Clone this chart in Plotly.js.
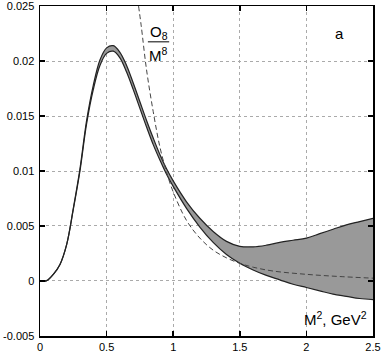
<!DOCTYPE html>
<html>
<head>
<meta charset="utf-8">
<script src="https://cdn.plot.ly/plotly-3.0.1.min.js"></script>
<style>body{margin:0;padding:0;background:#fff}</style>
</head>
<body>
<div id="chart" style="width:382px;height:354px"></div>
<script>
var m2 = [0, 0.05, 0.1, 0.15, 0.2, 0.25, 0.3, 0.35, 0.4, 0.45, 0.5, 0.55, 0.6, 0.65, 0.7, 0.75, 0.8, 0.85, 0.9, 0.95,
          1.0, 1.1, 1.2, 1.3, 1.4, 1.5, 1.6, 1.7, 1.8, 1.9, 2.0, 2.1, 2.2, 2.3, 2.4, 2.5];
var bandLow = [0, 0.00003, 0.0006, 0.0015, 0.0033, 0.0065, 0.0100, 0.0143, 0.0174, 0.0196, 0.0207, 0.0209, 0.0203, 0.0190,
               0.0174, 0.0157, 0.0140, 0.0124, 0.0110, 0.0097, 0.0086, 0.0066, 0.0049, 0.0035, 0.0024, 0.0016, 0.0010,
               0.0005, 0.0001, -0.0003, -0.0006, -0.0009, -0.0012, -0.0014, -0.0016, -0.0017];
var bandHigh = [0, 0.00003, 0.0006, 0.0015, 0.0033, 0.0066, 0.0102, 0.0146, 0.0178, 0.0201, 0.0212, 0.0214, 0.0208, 0.0196,
                0.0180, 0.0163, 0.0146, 0.0130, 0.0115, 0.0102, 0.0091, 0.0072, 0.0057, 0.0045, 0.0036, 0.00315, 0.0031,
                0.00325, 0.0035, 0.0037, 0.0039, 0.0043, 0.0047, 0.0051, 0.0054, 0.0057];

// dashed O8/M8 curve
var m2Dash = [0.74, 0.76, 0.8, 0.85, 0.9, 0.95, 1.0, 1.1, 1.2, 1.3, 1.4, 1.5, 1.6, 1.75, 2.0, 2.25, 2.5];
var o8Dash = [0.025, 0.0232, 0.0192, 0.0154, 0.0122, 0.0099, 0.0081, 0.0055, 0.0039, 0.0028, 0.0021, 0.0016, 0.00125,
              0.0009, 0.0006, 0.0004, 0.00025];

var xTicks = [0, 0.5, 1, 1.5, 2, 2.5];
var xLabels = ["0", "0.5", "1", "1.5", "2", "2.5"];
var yTicks = [-0.005, 0, 0.005, 0.01, 0.015, 0.02, 0.025];
var yLabels = ["-0.005", "0", "0.005", "0.01", "0.015", "0.02", "0.025"];

var lower = {
  x: m2, y: bandLow, type: "scatter", mode: "lines",
  line: {color: "#222", width: 1.2, shape: "spline"}, hoverinfo: "skip"
};
var upper = {
  x: m2, y: bandHigh, type: "scatter", mode: "lines", fill: "tonexty",
  fillcolor: "#999999",
  line: {color: "#222", width: 1.2, shape: "spline"}, hoverinfo: "skip"
};
var dashed = {
  x: m2Dash, y: o8Dash, type: "scatter", mode: "lines",
  line: {color: "#444", width: 1, dash: "5px,3px", shape: "spline"}, hoverinfo: "skip"
};
var data = [lower, upper, dashed];

var axisStyle = {
  showline: true, mirror: "ticks", linecolor: "#000", linewidth: 1.5,
  ticks: "inside", ticklen: 5, tickcolor: "#000", tickwidth: 1.5,
  showgrid: true, gridcolor: "#aaa", griddash: "dot", gridwidth: 1,
  zeroline: false, tickmode: "array", ticklabeloverflow: "allow",
  tickfont: {family: "Liberation Sans, Arial, sans-serif", size: 11, color: "#000"}
};

var layout = {
  width: 382, height: 354,
  margin: {l: 40, r: 9, t: 6, b: 18},
  showlegend: false,
  paper_bgcolor: "#fff", plot_bgcolor: "#fff",
  xaxis: Object.assign({}, axisStyle, {range: [0, 2.5], tickvals: xTicks, ticktext: xLabels}),
  yaxis: Object.assign({}, axisStyle, {range: [-0.00501, 0.02501], tickvals: yTicks, ticktext: yLabels, ticklabelstandoff: 2}),
  annotations: [
    {x: 2.25, y: 0.0225, xref: "x", yref: "y", text: "a", showarrow: false,
     font: {family: "Liberation Sans, Arial, sans-serif", size: 15, color: "#000"}},
    {x: 0.89, y: 0.0226, xref: "x", yref: "y", text: "O<sub>8</sub>", showarrow: false,
     font: {family: "Liberation Sans, Arial, sans-serif", size: 15, color: "#000"}},
    {x: 0.89, y: 0.0206, xref: "x", yref: "y", text: "M<sup>8</sup>", showarrow: false,
     font: {family: "Liberation Sans, Arial, sans-serif", size: 15, color: "#000"}},
    {x: 1, y: 0, xref: "paper", yref: "paper", xanchor: "right", yanchor: "bottom", xshift: -4, yshift: 6,
     text: "M<sup>2</sup>, GeV<sup>2</sup>", showarrow: false,
     font: {family: "Liberation Sans, Arial, sans-serif", size: 15, color: "#000"}}
  ],
  shapes: [
    {type: "line", xref: "x", yref: "y", x0: 0.81, x1: 0.97, y0: 0.02175, y1: 0.02175,
     line: {color: "#000", width: 1}}
  ]
};

Plotly.newPlot("chart", data, layout, {staticPlot: true});
</script>
</body>
</html>
